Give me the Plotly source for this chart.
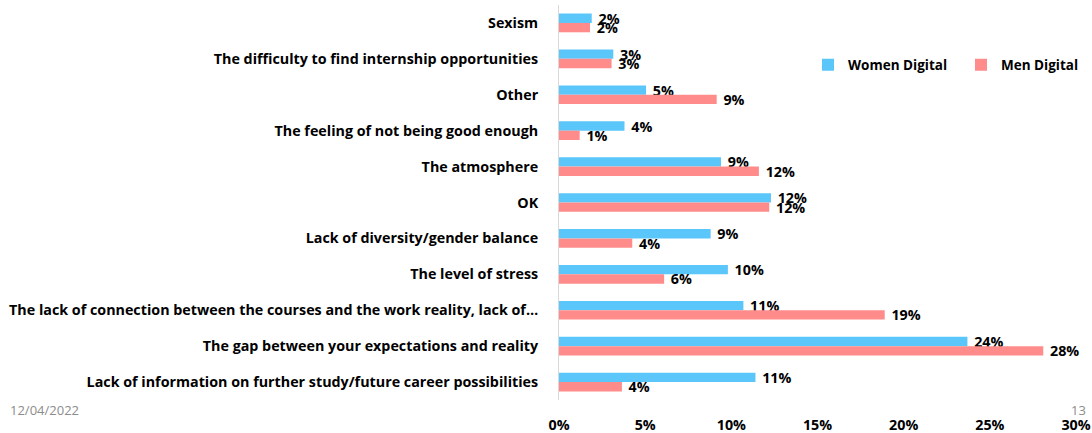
import plotly.graph_objects as go

categories = [
    "Sexism",
    "The difficulty to find internship opportunities",
    "Other",
    "The feeling of not being good enough",
    "The atmosphere",
    "OK",
    "Lack of diversity/gender balance",
    "The level of stress",
    "The lack of connection between the courses and the work reality, lack of…",
    "The gap between your expectations and reality",
    "Lack of information on further study/future career possibilities",
]
women = [1.9, 3.15, 5.05, 3.8, 9.4, 12.3, 8.8, 9.8, 10.7, 23.7, 11.4]
men = [1.8, 3.05, 9.15, 1.2, 11.6, 12.2, 4.25, 6.1, 18.9, 28.1, 3.65]
women_labels = ["2%", "3%", "5%", "4%", "9%", "12%", "9%", "10%", "11%", "24%", "11%"]
men_labels = ["2%", "3%", "9%", "1%", "12%", "12%", "4%", "6%", "19%", "28%", "4%"]
x_ticks = [0, 5, 10, 15, 20, 25, 30]

W, H = 1092, 433
ML, MR, MT, MB = 559, 16, 5, 33
PW, PH = W - ML - MR, H - MT - MB

def px_x(px):
    return (px - ML) / PW

def px_y(py):
    return 1 - (py - MT) / PH

FONT = "Open Sans"
FS = 14.3
women_color = "#5BC6FA"
men_color = "#FF8B8B"

fig = go.Figure()
fig.add_trace(go.Bar(
    y=categories, x=women, orientation="h", name="Women Digital",
    marker=dict(color=women_color, line=dict(width=0)),
    text=[" " + t for t in women_labels], textposition="outside",
    constraintext="none",
    textfont=dict(family=FONT, size=FS, color="#000000", weight="bold"),
    cliponaxis=False,
))
fig.add_trace(go.Bar(
    y=categories, x=men, orientation="h", name="Men Digital",
    marker=dict(color=men_color, line=dict(width=0)),
    text=[" " + t for t in men_labels], textposition="outside",
    constraintext="none",
    textfont=dict(family=FONT, size=FS, color="#000000", weight="bold"),
    cliponaxis=False,
))

fig.update_layout(
    width=W, height=H,
    margin=dict(l=ML, r=MR, t=MT, b=MB, pad=0, autoexpand=False),
    barmode="group", bargap=0.48, bargroupgap=0,
    plot_bgcolor="white", paper_bgcolor="white",
    font=dict(family=FONT, size=FS, color="#000000"),
    showlegend=True,
    legend=dict(
        orientation="h", x=px_x(808), xanchor="left", y=px_y(65), yanchor="middle",
        font=dict(family=FONT, size=13.5, color="#000000", weight="bold"),
        bgcolor="rgba(0,0,0,0)", itemwidth=30,
        entrywidth=108, entrywidthmode="pixels",
    ),
    xaxis=dict(
        range=[0, 30], tickvals=x_ticks, ticktext=[f"{v}%" for v in x_ticks],
        showgrid=False, zeroline=False, showline=False, ticks="",
        tickfont=dict(family=FONT, size=FS, color="#000000", weight="bold"),
        ticklabelstandoff=15, automargin=False,
    ),
    yaxis=dict(
        autorange="reversed", showgrid=False, zeroline=False,
        showline=True, linecolor="#D9D9D9", linewidth=1, ticks="",
        tickfont=dict(family=FONT, size=FS, color="#000000", weight="bold"),
        ticklabelstandoff=17, automargin=False,
    ),
)

fig.add_annotation(text="12/04/2022", xref="paper", yref="paper",
                   x=px_x(8), y=px_y(410), xanchor="left", yanchor="middle",
                   showarrow=False, font=dict(family=FONT, size=13, color="#8C8C8C"))
fig.add_annotation(text="13", xref="paper", yref="paper",
                   x=px_x(1088), y=px_y(410), xanchor="right", yanchor="middle",
                   showarrow=False, font=dict(family=FONT, size=13, color="#8C8C8C"))

fig.write_html("out.html")
